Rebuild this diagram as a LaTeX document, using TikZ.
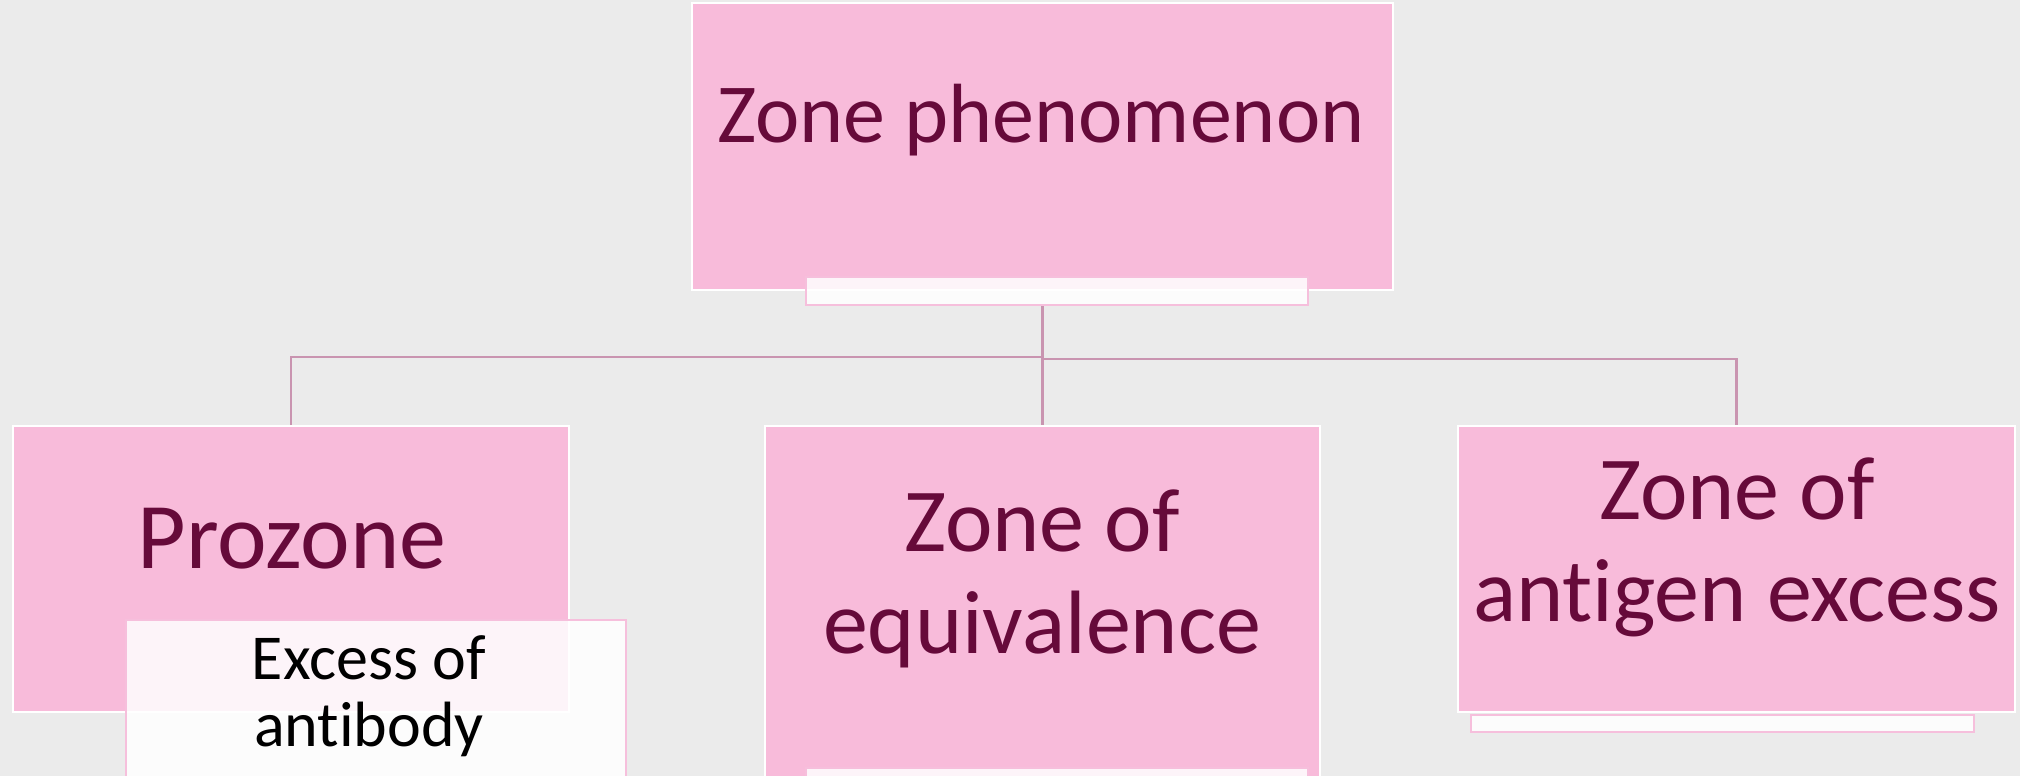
\documentclass[tikz,border=0pt]{standalone}
\usepackage{fontspec}
\setmainfont{Carlito}[Ligatures={NoCommon},RawFeature=-liga]
\definecolor{bg}{HTML}{EBEBEB}
\definecolor{boxpink}{HTML}{F8BBDA}
\definecolor{txt}{HTML}{660A3A}
\definecolor{conncol}{HTML}{C994B0}
\definecolor{subedge}{HTML}{F6BFDC}
\begin{document}
\begin{tikzpicture}[x=0.5pt,y=-0.5pt,
  mainbox/.style={rectangle, draw=white, line width=1pt, fill=boxpink, inner sep=0pt},
  subbox/.style={rectangle, draw=subedge, line width=1pt, fill=white, fill opacity=0.85, inner sep=0pt},
  link/.style={draw=conncol, line width=1.2pt},
  ttl/.style={text=txt, anchor=base, inner sep=0pt, font=\fontsize{45}{54}\selectfont},
  subtxt/.style={text=black, anchor=base, inner sep=0pt, font=\fontsize{32}{38}\selectfont},
]
\useasboundingbox (0,0) rectangle (2020,776);
\clip (0,0) rectangle (2020,776);
\fill[bg] (0,0) rectangle (2020,776);

% main boxes
\node[mainbox, minimum width=350.5pt, minimum height=143.5pt] (top) at (1042.5,146.5) {};
\node[subbox, minimum width=251pt, minimum height=14pt] (topsub) at (1057,291) {};
\node[mainbox, minimum width=278pt, minimum height=143pt] (pro) at (291,569) {};
\node[mainbox, minimum width=277.5pt, minimum height=212pt] (equ) at (1042.5,638) {};
\node[mainbox, minimum width=278.5pt, minimum height=143pt] (ant) at (1736.5,569) {};
\node[subbox, minimum width=250pt, minimum height=90pt] (prosub) at (376,710) {};
\node[subbox, minimum width=251pt, minimum height=16pt] (equsub) at (1057,784) {};
\node[subbox, minimum width=251.5pt, minimum height=8.5pt] (antsub) at (1722.5,723.5) {};

% connectors
\coordinate (jl) at (1041,357);
\coordinate (jr) at (1041,359);
\draw[link] (top.south |- topsub.south) -- (equ.north);
\draw[link] (top.south |- jl) -| (pro.north);
\draw[link] (top.south |- jr) -| (ant.north);

% texts
\node[ttl, font=\fontsize{42}{50}\selectfont] (topT) at (1041,142) {Zone phenomenon};
\node[ttl, font=\fontsize{47}{56}\selectfont] (proT) at (292,568) {Prozone};
\node[ttl] (equT1) at (1042,551) {Zone of};
\node[ttl] (equT2) at (1042,653) {equivalence};
\node[ttl] (antT1) at (1737,519) {Zone of};
\node[ttl] (antT2) at (1737,621) {antigen excess};
\node[subtxt] (exT1) at (369,679) {Excess of};
\node[subtxt] (exT2) at (369,746) {antibody};
\end{tikzpicture}
\end{document}
